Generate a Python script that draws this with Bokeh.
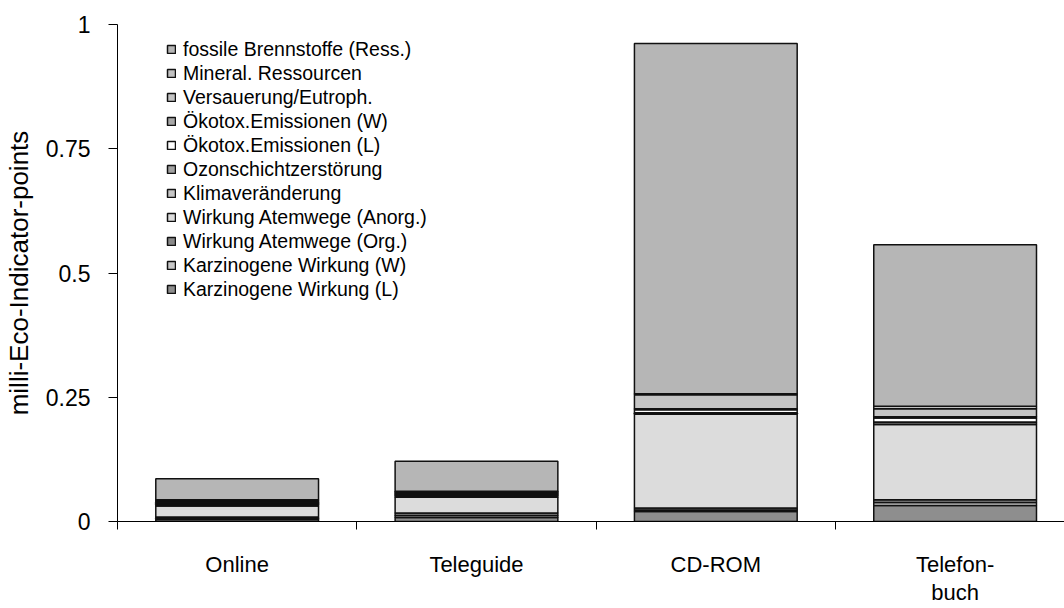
from bokeh.plotting import figure
from bokeh.models import Range1d, FixedTicker, Legend, LegendItem
from bokeh.embed import file_html
from bokeh.resources import INLINE

categories = ["Online", "Teleguide", "CD-ROM", "Telefon-\nbuch"]

# stack order: bottom -> top
series_names = [
    "Karzinogene Wirkung (L)",
    "Karzinogene Wirkung (W)",
    "Wirkung Atemwege (Org.)",
    "Wirkung Atemwege (Anorg.)",
    "Klimaveränderung",
    "Ozonschichtzerstörung",
    "Ökotox.Emissionen (L)",
    "Ökotox.Emissionen (W)",
    "Versauerung/Eutroph.",
    "Mineral. Ressourcen",
    "fossile Brennstoffe (Ress.)",
]

karz_l = [0.004, 0.008, 0.020, 0.032]
karz_w = [0.002, 0.004, 0.003, 0.006]
atem_org = [0.003, 0.005, 0.004, 0.006]
atem_anorg = [0.022, 0.032, 0.189, 0.151]
klima = [0.003, 0.003, 0.002, 0.004]
ozon = [0.002, 0.002, 0.001, 0.001]
oekotox_l = [0.002, 0.002, 0.006, 0.008]
oekotox_w = [0.003, 0.002, 0.002, 0.003]
versauerung = [0.002, 0.002, 0.028, 0.016]
mineral = [0.001, 0.001, 0.002, 0.005]
fossil = [0.042, 0.060, 0.705, 0.325]

series_values = [karz_l, karz_w, atem_org, atem_anorg, klima, ozon,
                 oekotox_l, oekotox_w, versauerung, mineral, fossil]

colors = ["#8e8e8e", "#c8c8c8", "#8a8a8a", "#dcdcdc", "#c6c6c6", "#a2a2a2",
          "#ffffff", "#a8a8a8", "#c4c4c4", "#c2c2c2", "#b6b6b6"]

y_ticks = [0, 0.25, 0.5, 0.75, 1]
y_tick_labels = {0: "0", 0.25: "0.25", 0.5: "0.5", 0.75: "0.75", 1: "1"}

FONT = "Liberation Sans"

xs = [i + 0.5 for i in range(len(categories))]
keys = ["s%d" % i for i in range(len(series_names))]
data = {"x": xs}
for k, v in zip(keys, series_values):
    data[k] = v

p = figure(width=1064, height=608, output_backend="svg", toolbar_location=None,
           x_range=Range1d(0, 3.957), y_range=Range1d(0, 1),
           min_border_left=117, min_border_right=0, min_border_top=24,
           min_border_bottom=86)
p.outline_line_color = None
p.xgrid.visible = False
p.ygrid.visible = False

renderers = p.vbar_stack(keys, x="x", width=0.68, source=data, color=colors,
                         line_color="#111111", line_width=1.5)
for r, c in zip(renderers, colors):
    r.glyph.fill_color = c
    r.glyph.line_color = "#111111"

# y axis
ya = p.yaxis[0]
ya.ticker = FixedTicker(ticks=y_ticks)
ya.major_label_overrides = y_tick_labels
ya.minor_tick_line_color = None
ya.major_tick_in = 0
ya.major_tick_out = 9
ya.major_tick_line_color = "black"
ya.axis_line_color = "black"
ya.major_label_text_font = FONT
ya.major_label_text_font_size = "23px"
ya.major_label_text_color = "black"
ya.major_label_standoff = 18
ya.axis_label = "milli-Eco-Indicator-points"
ya.axis_label_text_font = FONT
ya.axis_label_text_font_size = "26px"
ya.axis_label_text_font_style = "normal"
ya.axis_label_text_color = "black"
ya.axis_label_standoff = 9

# x axis
xa = p.xaxis[0]
xa.ticker = FixedTicker(ticks=xs, minor_ticks=[0, 1, 2, 3])
xa.major_label_overrides = {x: c for x, c in zip(xs, categories)}
xa.major_tick_line_color = None
xa.major_tick_in = 0
xa.major_tick_out = 0
xa.minor_tick_in = 0
xa.minor_tick_out = 8
xa.minor_tick_line_color = "black"
xa.axis_line_color = "black"
xa.major_label_text_font = FONT
xa.major_label_text_font_size = "22px"
xa.major_label_text_color = "black"
xa.major_label_text_line_height = 1.15
xa.major_label_standoff = 22

items = [LegendItem(label=n, renderers=[r]) for n, r in zip(series_names, renderers)]
items = items[::-1]
legend = Legend(items=items, location=(49, 220), orientation="vertical",
                label_text_font=FONT, label_text_font_size="19.5px",
                label_text_color="black",
                glyph_width=10, glyph_height=10, label_standoff=7,
                label_height=24, spacing=0, padding=0, margin=0,
                border_line_color=None, background_fill_alpha=0)
p.add_layout(legend, "center")

open("out.html", "w").write(file_html(p, INLINE))
